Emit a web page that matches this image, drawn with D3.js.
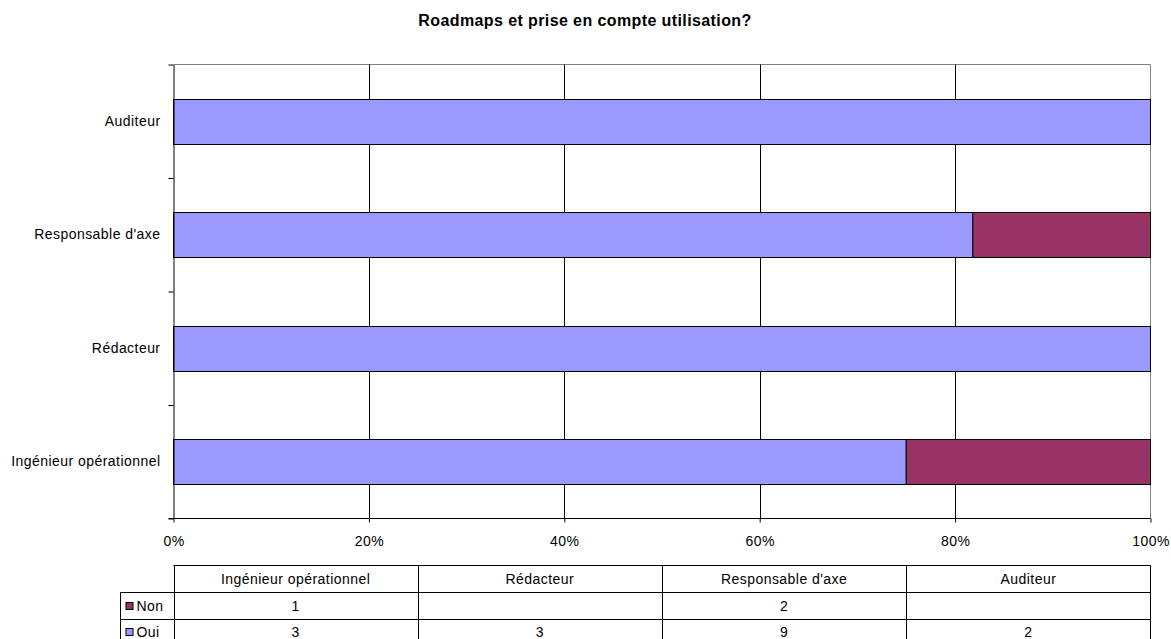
<!DOCTYPE html>
<html>
<head>
<meta charset="utf-8">
<script src="https://cdn.jsdelivr.net/npm/d3@7"></script>
<style>
  body { margin: 0; background: #fff; }
  text { font-family: "Liberation Sans", Arial, sans-serif; fill: #000; }
</style>
</head>
<body>
<div id="chart"></div>
<script>
// data
var categories = ["Ingénieur opérationnel", "Rédacteur", "Responsable d'axe", "Auditeur"];
var seriesNames = ["Non", "Oui"];
var nonValues = [1, null, 2, null];
var ouiValues = [3, 3, 9, 2];
var xTicks = [0, 0.2, 0.4, 0.6, 0.8, 1];
var colors = { Oui: "#9999ff", Non: "#993366" };

var W = 1171, H = 639;
var plot = { left: 173.5, right: 1150.5, top: 64.5, bottom: 518.5 };
var fs = "14px", ls = "0.45px";

var svg = d3.select("#chart").append("svg")
   .attr("width", W)
   .attr("height", H);

svg.append("text")
   .attr("x", 585)
   .attr("y", 25.5)
   .attr("text-anchor", "middle")
   .style("font-weight", "bold")
   .style("font-size", "16px")
   .style("letter-spacing", "0.4px")
   .text("Roadmaps et prise en compte utilisation?");

var x = d3.scaleLinear().domain([0, 1]).range([plot.left, plot.right]);
var y = d3.scaleBand()
   .domain(categories.slice().reverse())
   .range([plot.top, plot.bottom])
   .paddingInner(0.6)
   .paddingOuter(0.3);

// plot border (top + right, grey)
svg.append("path")
   .attr("d", "M" + plot.left + "," + plot.top + "H" + plot.right + "V" + plot.bottom)
   .attr("fill", "none")
   .attr("stroke", "#808080");

// gridlines
svg.selectAll(".grid")
   .data(xTicks.filter(function(d) { return d > 0 && d < 1; }))
   .enter()
   .append("line")
   .attr("class", "grid")
   .attr("x1", function(d) { return Math.round(x(d)) + 0.5; })
   .attr("x2", function(d) { return Math.round(x(d)) + 0.5; })
   .attr("y1", plot.top)
   .attr("y2", plot.bottom)
   .attr("stroke", "#000");

// stacked bars
var stackData = categories.map(function(c, i) {
  var non = nonValues[i] || 0, oui = ouiValues[i] || 0;
  return { cat: c, Oui: oui / (non + oui), Non: non / (non + oui) };
});
var stacked = d3.stack().keys(["Oui", "Non"])(stackData);

svg.selectAll(".series")
   .data(stacked)
   .enter()
   .append("g")
   .attr("fill", function(s) { return colors[s.key]; })
   .selectAll("rect")
   .data(function(s) { return s.filter(function(d) { return d[1] > d[0]; }); })
   .enter()
   .append("rect")
   .attr("x", function(d) { return x(d[0]); })
   .attr("y", function(d) { return Math.round(y(d.data.cat)) + 0.5; })
   .attr("width", function(d) { return x(d[1]) - x(d[0]); })
   .attr("height", Math.round(y.bandwidth()))
   .attr("stroke", "#000")
   .attr("stroke-width", 1);

// left axis: category labels
var yAxis = d3.axisLeft(y).tickSize(0).tickPadding(13);
var gy = svg.append("g")
   .attr("transform", "translate(" + plot.left + ",0)")
   .call(yAxis);
gy.select(".domain").remove();
gy.selectAll("text").style("font-size", fs).style("letter-spacing", ls)
   .style("font-family", "Liberation Sans, Arial, sans-serif");

// left axis line and boundary ticks
var yb = d3.scaleLinear().domain([0, categories.length]).range([plot.bottom, plot.top]);
var gyb = svg.append("g")
   .attr("transform", "translate(" + plot.left + ",0)")
   .call(d3.axisLeft(yb).ticks(categories.length).tickSize(5).tickSizeOuter(0).tickFormat(""));
gyb.selectAll("path, line").attr("stroke", "#000");

// bottom axis
var gx = svg.append("g")
   .attr("transform", "translate(0," + plot.bottom + ")")
   .call(d3.axisBottom(x).tickValues(xTicks).tickFormat(d3.format(".0%")).tickSize(4).tickSizeOuter(0).tickPadding(14));
gx.select(".domain").attr("d", "M" + (plot.left - 5) + ",0H" + plot.right);
gx.selectAll("line").attr("stroke", "#000");
gx.selectAll("text").style("font-size", fs).style("letter-spacing", ls)
   .style("font-family", "Liberation Sans, Arial, sans-serif");

// data table
var tbl = { top: 565.5, row: 26.7, legendLeft: 120.5 };
var colX = d3.scaleBand().domain(categories).range([plot.left, plot.right]);
var t = svg.append("g").attr("class", "table");

t.append("path")
   .attr("d", "M" + plot.left + "," + tbl.top + "H" + plot.right)
   .attr("stroke", "#000").attr("fill", "none");
var lineYs = [tbl.top + tbl.row, tbl.top + 2 * tbl.row, tbl.top + 3 * tbl.row].map(Math.round).map(function(v) { return v + 0.5; });
lineYs.forEach(function(ly) {
  t.append("line")
     .attr("x1", tbl.legendLeft).attr("x2", plot.right)
     .attr("y1", ly).attr("y2", ly)
     .attr("stroke", "#000");
});
categories.map(function(c) { return Math.round(colX(c)) + 0.5; }).concat([plot.right]).forEach(function(cx) {
  t.append("line")
     .attr("x1", cx).attr("x2", cx)
     .attr("y1", tbl.top).attr("y2", H + 10)
     .attr("stroke", "#000");
});
t.append("line")
   .attr("x1", tbl.legendLeft).attr("x2", tbl.legendLeft)
   .attr("y1", lineYs[0]).attr("y2", H + 10)
   .attr("stroke", "#000");

t.selectAll(".hdr")
   .data(categories)
   .enter()
   .append("text")
   .attr("x", function(c) { return colX(c) + colX.bandwidth() / 2; })
   .attr("y", tbl.top + tbl.row / 2 + 5)
   .attr("text-anchor", "middle")
   .style("font-size", fs).style("letter-spacing", ls)
   .text(function(c) { return c; });

var rows = [
  { name: "Non", values: nonValues },
  { name: "Oui", values: ouiValues }
];
rows.forEach(function(r, ri) {
  var cy = tbl.top + tbl.row * (ri + 1) + tbl.row / 2;
  t.append("rect")
     .attr("x", tbl.legendLeft + 5.5).attr("y", Math.round(cy - 4) + 0.5)
     .attr("width", 7).attr("height", 7)
     .attr("fill", colors[r.name])
     .attr("stroke", "#000");
  t.append("text")
     .attr("x", tbl.legendLeft + 16).attr("y", cy + 5)
     .style("font-size", fs).style("letter-spacing", ls)
     .text(r.name);
  t.selectAll(".v" + ri)
     .data(r.values)
     .enter()
     .append("text")
     .attr("x", function(v, i) { return colX(categories[i]) + colX.bandwidth() / 2; })
     .attr("y", cy + 5)
     .attr("text-anchor", "middle")
     .style("font-size", fs).style("letter-spacing", ls)
     .text(function(v) { return v == null ? "" : v; });
});
</script>
</body>
</html>
